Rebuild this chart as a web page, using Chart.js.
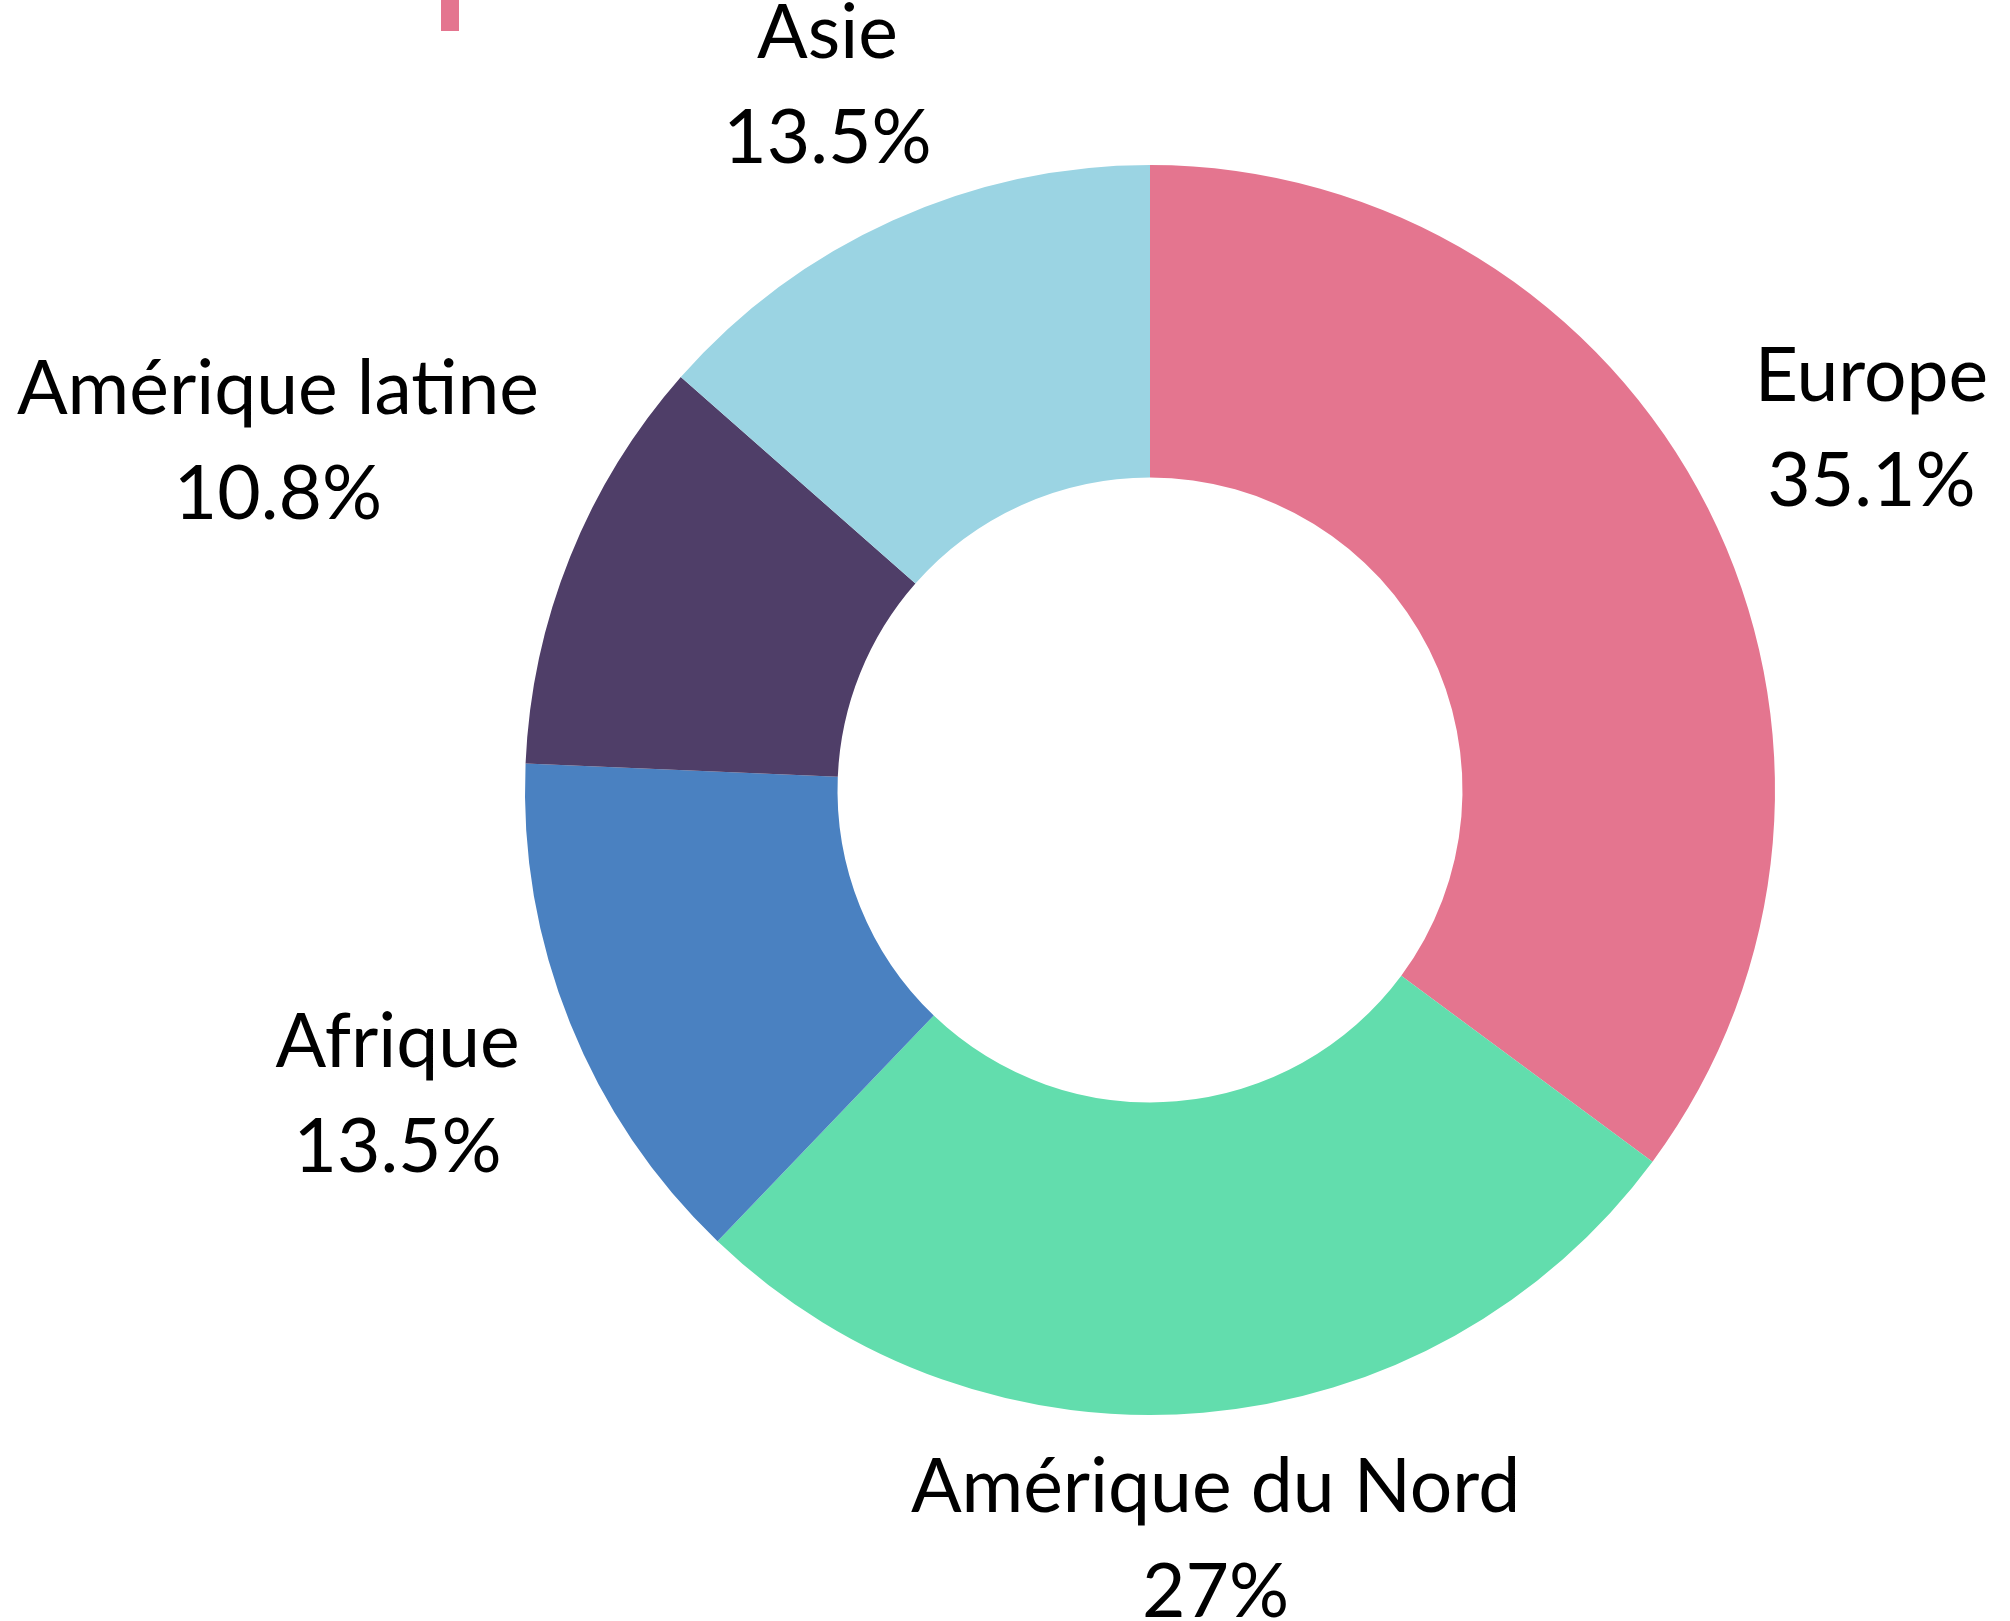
<!DOCTYPE html>
<html>
<head>
<meta charset="utf-8">
<script src="https://cdn.jsdelivr.net/npm/chart.js@4.4.0/dist/chart.umd.min.js"></script>
<style>
  body { margin: 0; background: #fff; }
  #wrap { position: relative; width: 2010px; height: 1621px; }
  /* bit of a legend swatch cut off at the top edge */
  .marker { position: absolute; left: 441px; top: 0; width: 18px; height: 31px; background: #E4758F; }
</style>
</head>
<body>
<div id="wrap">
  <canvas id="regions" width="2010" height="1621"></canvas>
  <div class="marker"></div>
</div>
<script>
var regionNames = ['Europe', 'Amérique du Nord', 'Afrique', 'Amérique latine', 'Asie'];
var regionShares = [35.1, 27, 13.5, 10.8, 13.5];
var regionColors = ['#E4758F', '#62DDAD', '#4A81C1', '#4F3E68', '#9BD4E3'];

var FONT_SIZE = 75;
var CAP_H = 54;
var LINE_H = 105;
var GAP = 43;

// labels sit outside the ring, name + share on two lines
var outerLabels = {
    id: 'outerLabels',
    afterDatasetsDraw: function (chart) {
        var ctx = chart.ctx;
        var meta = chart.getDatasetMeta(0);
        ctx.save();
        ctx.font = '400 ' + FONT_SIZE + 'px Lato';
        ctx.fillStyle = '#000';
        ctx.textAlign = 'center';
        ctx.textBaseline = 'alphabetic';
        meta.data.forEach(function (arc, i) {
            var p = arc.getProps(['x', 'y', 'startAngle', 'endAngle', 'outerRadius'], true);
            var mid = (p.startAngle + p.endAngle) / 2;
            var ux = Math.cos(mid), uy = Math.sin(mid);
            var lines = [regionNames[i], regionShares[i] + '%'];
            var w = Math.max.apply(null, lines.map(function (l) { return ctx.measureText(l).width; }));
            var h = LINE_H * (lines.length - 1) + CAP_H;
            var d = p.outerRadius + GAP + Math.abs(ux) * w / 2 + Math.abs(uy) * h / 2;
            var cx = p.x + ux * d, cy = p.y + uy * d;
            cx = Math.min(Math.max(cx, w / 2 + 4), chart.width - w / 2 - 4);
            cy = Math.min(Math.max(cy, h / 2 + 4), chart.height - h / 2 - 4);
            var top = cy - h / 2;
            lines.forEach(function (l, k) {
                ctx.fillText(l, cx, top + CAP_H + k * LINE_H);
            });
        });
        ctx.restore();
    }
};

var regionsCanvas = document.getElementById('regions');
var regionsChart = new Chart(regionsCanvas, {
    type: 'doughnut',
    data: {
        labels: regionNames,
        datasets: [{
            data: regionShares,
            backgroundColor: regionColors,
            borderWidth: 0,
        }]
    },
    options: {
        responsive: false,
        animation: false,
        cutout: '50%',
        layout: {
            padding: { left: 525, right: 235, top: 165, bottom: 206 }
        },
        plugins: {
            legend: { display: false },
            tooltip: { enabled: false },
        }
    },
    plugins: [outerLabels]
});
</script>
</body>
</html>
